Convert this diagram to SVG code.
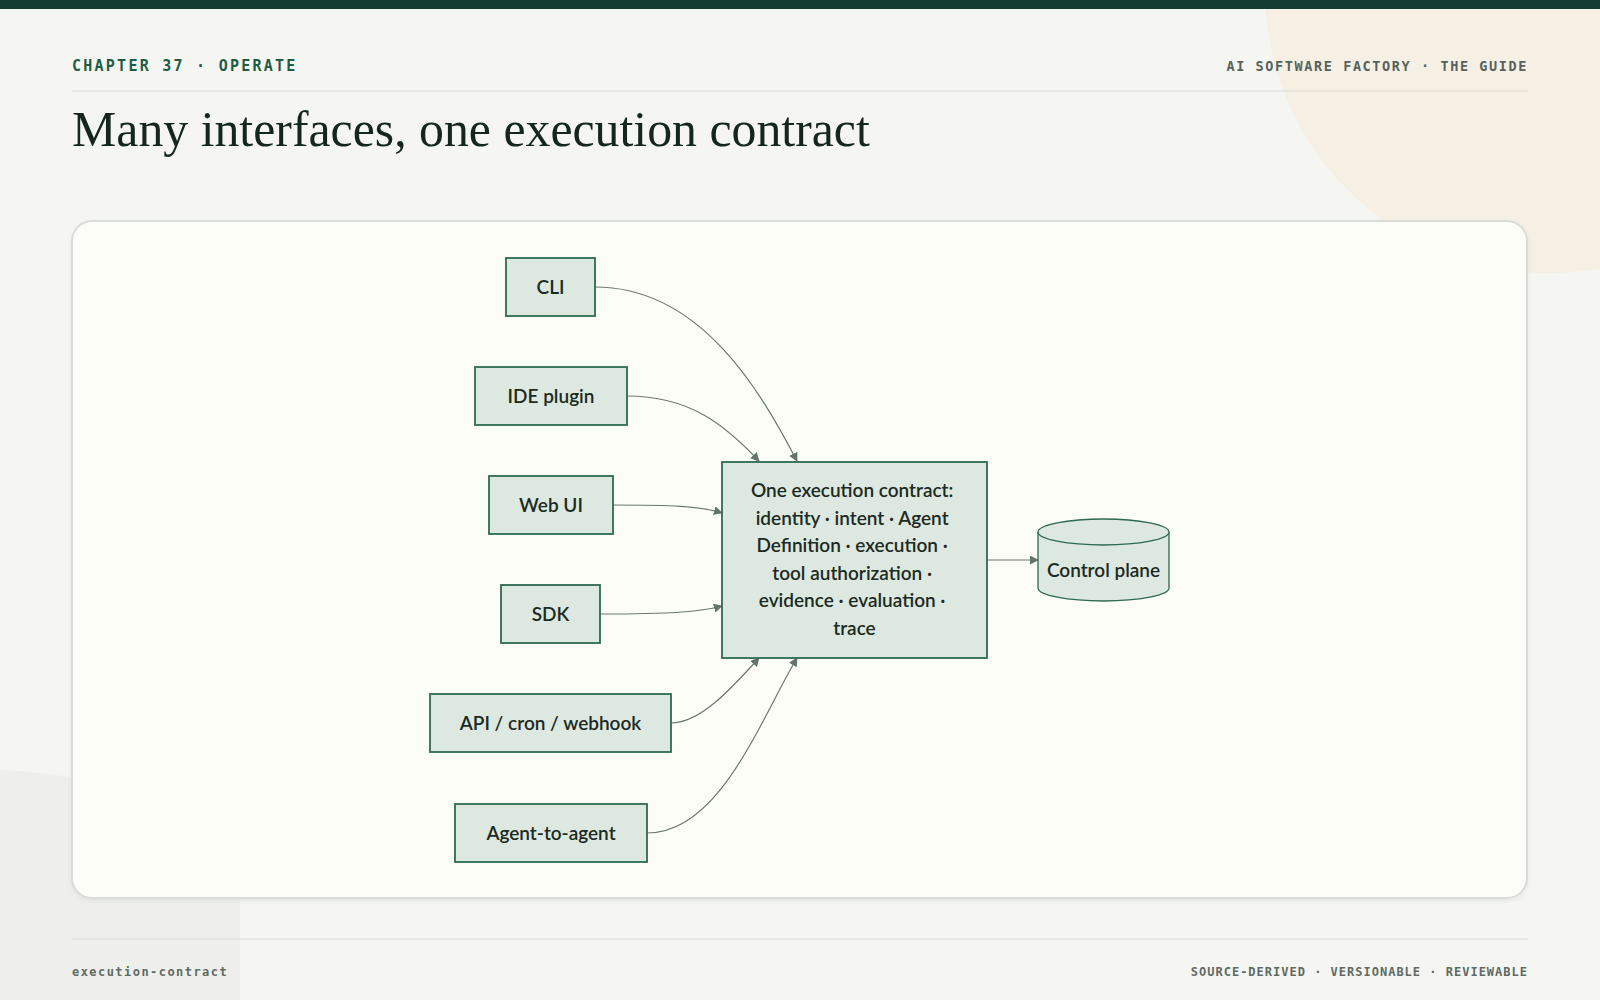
<svg xmlns="http://www.w3.org/2000/svg" width="1600" height="1000" viewBox="0 0 1600 1000">
  <defs>
    <style>
      .mono { font-family: "DejaVu Sans Mono", "Liberation Mono", monospace; }
      .node rect { fill: #dde8e0; stroke: #2d6a50; stroke-width: 1.8; }
      .node ellipse { fill: #dde8e0; stroke: #2d6a50; stroke-width: 1.3; }
      .node path.cyl { fill: #dde8e0; stroke: #2d6a50; stroke-width: 1.3; }
      .label { font-family: "Lato", "Noto Sans", sans-serif; font-size: 19px; font-weight: 600; fill: #1b2a22; text-anchor: middle; }
      .edge { fill: none; stroke: #6b7770; stroke-width: 1.2; }
    </style>
    <marker id="arrow" viewBox="0 0 10 10" refX="9" refY="5" markerWidth="9" markerHeight="9" markerUnits="userSpaceOnUse" orient="auto">
      <path d="M0,0 L10,5 L0,10 z" fill="#66736c"/>
    </marker>
    <filter id="shadow" x="-5%" y="-5%" width="110%" height="115%">
      <feDropShadow dx="0" dy="2" stdDeviation="2" flood-color="#000000" flood-opacity="0.06"/>
    </filter>
  </defs>

  <!-- background -->
  <rect x="0" y="0" width="1600" height="1000" fill="#f5f5f1"/>
  <circle cx="1548" cy="-10" r="283" fill="#f5efe4"/>
  <path d="M0,770 C30,771 60,775 100,782 L240,830 L240,1000 L0,1000 Z" fill="#eeefea"/>
  <rect x="0" y="0" width="1600" height="9" fill="#133d31"/>

  <!-- header -->
  <text x="72" y="71" class="mono" font-size="15" font-weight="700" letter-spacing="2.25" fill="#1f5c45">CHAPTER 37 · OPERATE</text>
  <text x="1528" y="71" class="mono" font-size="13.5" font-weight="700" letter-spacing="1.6" fill="#56625b" text-anchor="end">AI SOFTWARE FACTORY · THE GUIDE</text>
  <line x1="72" y1="91" x2="1528" y2="91" stroke="#dcdcd6" stroke-width="1.2"/>
  <text x="72" y="146" font-family="Liberation Serif, 'DejaVu Serif', serif" font-size="49.8" fill="#15261e">Many interfaces, one execution contract</text>

  <!-- card -->
  <rect x="72" y="221" width="1455" height="677" rx="20" ry="20" fill="#fdfdf8" stroke="#d8dcd6" stroke-width="2" filter="url(#shadow)"/>

  <!-- connectors -->
  <g id="connectors">
    <path class="edge" d="M595,287 C700,287 760,390 797,461" marker-end="url(#arrow)"/>
    <path class="edge" d="M627,396 C690,396 725,425 759,461" marker-end="url(#arrow)"/>
    <path class="edge" d="M613,505 C670,505 700,506 722,513" marker-end="url(#arrow)"/>
    <path class="edge" d="M600,614 C670,614 700,612 722,606" marker-end="url(#arrow)"/>
    <path class="edge" d="M671,723 C700,723 730,690 759,658" marker-end="url(#arrow)"/>
    <path class="edge" d="M647,833 C720,833 760,720 797,658" marker-end="url(#arrow)"/>
    <path class="edge" d="M987,560 L1038,560" marker-end="url(#arrow)"/>
  </g>

  <!-- nodes -->
  <g id="node-cli" class="node">
    <rect x="506" y="258" width="89" height="58"/>
    <text class="label" x="550.5" y="293.5">CLI</text>
  </g>
  <g id="node-ide" class="node">
    <rect x="475" y="367" width="152" height="58"/>
    <text class="label" x="551" y="402.5">IDE plugin</text>
  </g>
  <g id="node-web" class="node">
    <rect x="489" y="476" width="124" height="58"/>
    <text class="label" x="551" y="511.5">Web UI</text>
  </g>
  <g id="node-sdk" class="node">
    <rect x="501" y="585" width="99" height="58"/>
    <text class="label" x="550.5" y="620.5">SDK</text>
  </g>
  <g id="node-api" class="node">
    <rect x="430" y="694" width="241" height="58"/>
    <text class="label" x="550.5" y="729.5">API / cron / webhook</text>
  </g>
  <g id="node-a2a" class="node">
    <rect x="455" y="804" width="192" height="58"/>
    <text class="label" x="551" y="839.5">Agent-to-agent</text>
  </g>
  <g id="node-contract" class="node">
    <rect x="722" y="462" width="265" height="196"/>
    <text class="label" x="854.5" y="497">
      <tspan x="854.5" dy="0">One execution contract:</tspan>
      <tspan x="854.5" dy="27.5">identity · intent · Agent</tspan>
      <tspan x="854.5" dy="27.5">Definition · execution ·</tspan>
      <tspan x="854.5" dy="27.5">tool authorization ·</tspan>
      <tspan x="854.5" dy="27.5">evidence · evaluation ·</tspan>
      <tspan x="854.5" dy="27.5">trace</tspan>
    </text>
  </g>
  <g id="node-control" class="node">
    <path class="cyl" d="M1038,532 L1038,588 A65.5,13 0 0 0 1169,588 L1169,532"/>
    <ellipse cx="1103.5" cy="532" rx="65.5" ry="13"/>
    <text class="label" x="1103.5" y="576.5">Control plane</text>
  </g>

  <!-- footer -->
  <line x1="72" y1="939" x2="1528" y2="939" stroke="#dcdcd6" stroke-width="1.2"/>
  <text x="72" y="976" class="mono" font-size="12" font-weight="700" letter-spacing="1.45" fill="#5f6a64">execution-contract</text>
  <text x="1528" y="976" class="mono" font-size="12" font-weight="700" letter-spacing="1.0" fill="#5f6a64" text-anchor="end">SOURCE-DERIVED · VERSIONABLE · REVIEWABLE</text>
</svg>
